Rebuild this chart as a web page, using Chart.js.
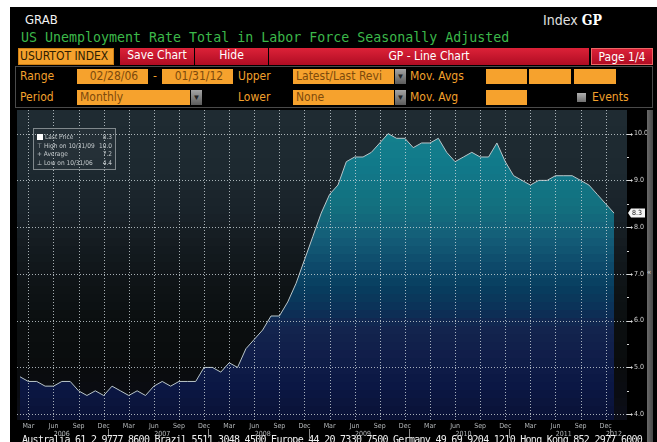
<!DOCTYPE html>
<html>
<head>
<meta charset="utf-8">
<title>USURTOT Index GP</title>
<script src="https://cdn.jsdelivr.net/npm/chart.js@4.4.0/dist/chart.umd.min.js"></script>
<style>
  html, body { margin: 0; padding: 0; background: #fff; width: 657px; height: 442px; overflow: hidden; }
  #screen { position: absolute; left: 10px; top: 7px; width: 647px; height: 435px; background: #000; }
  .t { position: absolute; white-space: nowrap; }
  .cond { font-family: "DejaVu Sans Condensed", "DejaVu Sans", sans-serif; font-stretch: condensed; }
  .mono { font-family: "DejaVu Sans Mono", "Liberation Mono", monospace; }
  .box { position: absolute; box-sizing: border-box; white-space: nowrap; overflow: hidden; }
  .ob { background: #f6a22d; color: #2e1d02; border: 1px solid #d07f12; }
  .rb { background: linear-gradient(#dc2238, #b00c23); color: #fff; text-align: center; }
  .lab { color: #f3a12c; font-size: 12px; line-height: 16px; }
  .fld { background: #f6a22d; color: #7d4a0c; font-size: 12px; line-height: 15px; padding-left: 3px; }
  .dd { background: linear-gradient(#a4a4a4, #5c5c5c); color: #222; font-size: 8px; text-align: center; line-height: 15px; }
  #panel { position: absolute; left: 15px; top: 66px; width: 638px; height: 42px; box-sizing: border-box; border: 1px solid #4a4a4a; }
  #chartBox { position: absolute; left: 17px; top: 110px; }
  #legendBox { position: absolute; left: 33px; top: 128px; width: 83px; height: 42px; box-sizing: border-box;
    border: 1px solid #80888c; background: rgba(255,255,255,0.03); color: #c6cbce; font-size: 6.5px; }
  #legendBox .row { position: absolute; left: 3px; right: 3px; height: 9px; line-height: 9px; }
  #legendBox .row span.v { position: absolute; right: 0; }
  #strip { position: absolute; left: 647px; top: 110px; width: 6px; height: 332px; background: linear-gradient(90deg, #6a6a6a, #474747); }
</style>
</head>
<body>
<div id="screen"></div>

<div class="t cond" style="left:25px;top:12px;font-size:13px;color:#f2f2f2">GRAB</div>
<div class="t cond" style="left:543px;top:12px;font-size:14px;color:#e0e0e0">Index <b style="font-family:'DejaVu Serif',serif;font-size:14px;color:#fff">GP</b></div>
<div class="t mono" style="left:21px;top:30px;font-size:13.3px;color:#3cb84a">US Unemployment Rate Total in Labor Force Seasonally Adjusted</div>

<!-- ligne 1 : boutons -->
<div class="box ob cond" style="left:18px;top:48px;width:96px;height:17px;font-size:12px;line-height:15px;padding-left:1px">USURTOT INDEX</div>
<div class="box rb cond" style="left:120px;top:48px;width:74px;height:17px;font-size:12px;line-height:15px">Save Chart</div>
<div class="box rb cond" style="left:195px;top:48px;width:73px;height:17px;font-size:12px;line-height:15px">Hide</div>
<div class="box rb cond" style="left:269px;top:48px;width:320px;height:17px;font-size:12px;line-height:16px">GP - Line Chart</div>
<div class="box rb cond" style="left:591px;top:48px;width:62px;height:17px;font-size:12px;line-height:16px;border:1px solid #e66">Page 1/4</div>

<!-- lignes 2 et 3 : paramètres -->
<div id="panel"></div>
<div class="t lab cond" style="left:20px;top:68px">Range</div>
<div class="box fld cond" style="left:77px;top:69px;width:71px;height:15px;text-align:center">02/28/06</div>
<div class="t lab cond" style="left:153px;top:68px">-</div>
<div class="box fld cond" style="left:162px;top:69px;width:71px;height:15px;text-align:center">01/31/12</div>
<div class="t lab cond" style="left:238px;top:68px">Upper</div>
<div class="box fld cond" style="left:293px;top:69px;width:101px;height:15px">Latest/Last Revi</div>
<div class="box dd" style="left:395px;top:69px;width:11px;height:15px">&#9660;</div>
<div class="t lab cond" style="left:410px;top:68px">Mov. Avgs</div>
<div class="box fld" style="left:486px;top:69px;width:41px;height:15px"></div>
<div class="box fld" style="left:529px;top:69px;width:42px;height:15px"></div>
<div class="box fld" style="left:574px;top:69px;width:42px;height:15px"></div>

<div class="t lab cond" style="left:20px;top:89px">Period</div>
<div class="box fld cond" style="left:77px;top:90px;width:113px;height:15px">Monthly</div>
<div class="box dd" style="left:191px;top:90px;width:11px;height:15px">&#9660;</div>
<div class="t lab cond" style="left:238px;top:89px">Lower</div>
<div class="box fld cond" style="left:293px;top:90px;width:101px;height:15px">None</div>
<div class="box dd" style="left:395px;top:90px;width:11px;height:15px">&#9660;</div>
<div class="t lab cond" style="left:410px;top:89px">Mov. Avg</div>
<div class="box fld" style="left:486px;top:90px;width:41px;height:15px"></div>
<div class="box" style="left:577px;top:93px;width:9px;height:9px;background:linear-gradient(#b0b0b0,#707070)"></div>
<div class="t lab cond" style="left:592px;top:89px">Events</div>

<!-- graphique -->
<div id="chartBox"><canvas id="myChart" width="631" height="330"></canvas></div>
<div id="legendBox" class="cond"></div>
<div id="strip"></div>
<div class="t" style="left:647px;top:267px;font-size:8px;color:#ddd">&#171;</div>

<div class="t mono" style="left:22px;top:435px;font-size:10px;line-height:10px;letter-spacing:-0.72px;color:#f0f0f0">Australia 61 2 9777 8600 Brazil 5511 3048 4500 Europe 44 20 7330 7500 Germany 49 69 9204 1210 Hong Kong 852 2977 6000</div>

<script>
// données : taux de chômage mensuel (fin de mois)
const months = [
  '2006-02','2006-03','2006-04','2006-05','2006-06','2006-07','2006-08','2006-09','2006-10','2006-11','2006-12',
  '2007-01','2007-02','2007-03','2007-04','2007-05','2007-06','2007-07','2007-08','2007-09','2007-10','2007-11','2007-12',
  '2008-01','2008-02','2008-03','2008-04','2008-05','2008-06','2008-07','2008-08','2008-09','2008-10','2008-11','2008-12',
  '2009-01','2009-02','2009-03','2009-04','2009-05','2009-06','2009-07','2009-08','2009-09','2009-10','2009-11','2009-12',
  '2010-01','2010-02','2010-03','2010-04','2010-05','2010-06','2010-07','2010-08','2010-09','2010-10','2010-11','2010-12',
  '2011-01','2011-02','2011-03','2011-04','2011-05','2011-06','2011-07','2011-08','2011-09','2011-10','2011-11','2011-12',
  '2012-01'
];
const unemployment = [
  4.8, 4.7, 4.7, 4.6, 4.6, 4.7, 4.7, 4.5, 4.4, 4.5, 4.4,
  4.6, 4.5, 4.4, 4.5, 4.4, 4.6, 4.7, 4.6, 4.7, 4.7, 4.7, 5.0,
  5.0, 4.9, 5.1, 5.0, 5.4, 5.6, 5.8, 6.1, 6.1, 6.4, 6.8, 7.3,
  7.8, 8.3, 8.7, 8.9, 9.4, 9.5, 9.5, 9.6, 9.8, 10.0, 9.9, 9.9,
  9.7, 9.8, 9.8, 9.9, 9.6, 9.4, 9.5, 9.6, 9.5, 9.5, 9.8, 9.4,
  9.1, 9.0, 8.9, 9.0, 9.0, 9.1, 9.1, 9.1, 9.0, 8.9, 8.7, 8.5,
  8.3
];
const yTicks = [4.0, 4.5, 5.0, 5.5, 6.0, 6.5, 7.0, 7.5, 8.0, 8.5, 9.0, 9.5, 10.0];
const quarterNames = { '03': 'Mar', '06': 'Jun', '09': 'Sep', '12': 'Dec' };

const FONT = '"DejaVu Sans Condensed", "DejaVu Sans", sans-serif';
const gridCol = 'rgba(205,214,218,0.8)';

// petite légende (dernier, max, moyenne, min)
function endOfMonth(m) {
  const y = +m.slice(0, 4), mo = +m.slice(5, 7);
  const d = new Date(y, mo, 0).getDate();
  return m.slice(5, 7) + '/' + d + '/' + m.slice(2, 4);
}
let hi = 0, lo = 0, sum = 0;
for (let i = 0; i < unemployment.length; i++) {
  if (unemployment[i] > unemployment[hi]) hi = i;
  if (unemployment[i] < unemployment[lo]) lo = i;
  sum += unemployment[i];
}
const last = unemployment[unemployment.length - 1];
const rows = [
  ['<span style="display:inline-block;width:6px;height:6px;background:#fff;margin-right:2px;vertical-align:-0.5px"></span>Last Price', last.toFixed(1)],
  ['&#8868; High on ' + endOfMonth(months[hi]), unemployment[hi].toFixed(1)],
  ['+ Average', (sum / unemployment.length).toFixed(1)],
  ['&#8869; Low on ' + endOfMonth(months[lo]), unemployment[lo].toFixed(1)]
];
document.getElementById('legendBox').innerHTML = rows.map((r, k) =>
  '<div class="row" style="top:' + (4 + k * 8.7) + 'px">' + r[0] + '<span class="v">' + r[1] + '</span></div>').join('');

// dégradés en bandes (style terminal)
function hex(c) { return [parseInt(c.slice(1, 3), 16), parseInt(c.slice(3, 5), 16), parseInt(c.slice(5, 7), 16)]; }
function colorAt(anchors, t) {
  for (let k = 1; k < anchors.length; k++) {
    if (t <= anchors[k][0]) {
      const a = anchors[k - 1], b = anchors[k];
      const f = (t - a[0]) / (b[0] - a[0]);
      const ca = hex(a[1]), cb = hex(b[1]);
      return 'rgb(' + ca.map((v, j) => Math.round(v + (cb[j] - v) * f)).join(',') + ')';
    }
  }
  return anchors[anchors.length - 1][1];
}
function bandGradient(ctx, area, anchors, step) {
  const g = ctx.createLinearGradient(0, area.top, 0, area.bottom);
  const h = area.bottom - area.top;
  for (let y0 = 0; y0 < h; y0 += step) {
    const y1 = Math.min(h, y0 + step);
    const c = colorAt(anchors, (y0 + y1) / 2 / h);
    g.addColorStop(y0 / h, c);
    g.addColorStop(y1 / h, c);
  }
  return g;
}
const bgAnchors = [[0, '#1f2b32'], [0.19, '#1d2930'], [0.32, '#19232a'], [0.44, '#141b20'], [0.55, '#0f1417'],
  [0.68, '#0b0f10'], [0.81, '#0a0c0d'], [0.92, '#0a0c12'], [1, '#0c0e1a']];
const fillAnchors = [[0, '#16858f'], [0.18, '#11798a'], [0.31, '#13707f'], [0.41, '#145e78'], [0.50, '#0d4a6b'],
  [0.57, '#083e5f'], [0.64, '#0b3258'], [0.70, '#13254e'], [0.78, '#111f4a'], [0.89, '#0b1744'], [1, '#0a1236']];

let fillGrad = null;

const bgPlugin = {
  id: 'bgBands',
  beforeDraw(chart) {
    const a = chart.chartArea, ctx = chart.ctx;
    ctx.save();
    ctx.fillStyle = bandGradient(ctx, a, bgAnchors, 8);
    ctx.fillRect(a.left, a.top, a.right - a.left, a.bottom - a.top);
    ctx.restore();
  }
};

// quadrillage pointillé, par-dessus le remplissage
const gridPlugin = {
  id: 'dotGrid',
  afterDatasetsDraw(chart) {
    const ctx = chart.ctx, a = chart.chartArea;
    const ys = chart.scales.y, xs = chart.scales.x;
    ctx.save();
    ctx.fillStyle = gridCol;
    months.forEach((m, i) => {
      if (!quarterNames[m.slice(5, 7)]) return;
      const px = Math.round(xs.getPixelForValue(i));
      for (let y = Math.ceil(a.top); y < a.bottom; y += 3) ctx.fillRect(px, y, 1, 1);
    });
    yTicks.forEach(v => {
      if (!Number.isInteger(v)) return;
      const py = Math.round(ys.getPixelForValue(v));
      for (let x = Math.ceil(a.left); x < a.right; x += 3) ctx.fillRect(x, py, 1, 1);
    });
    ctx.restore();
  }
};

const overlayPlugin = {
  id: 'overlay',
  afterDraw(chart) {
    const ctx = chart.ctx, a = chart.chartArea;
    const ys = chart.scales.y, xs = chart.scales.x;
    ctx.save();
    // graduations de l'axe de droite
    ctx.strokeStyle = '#d8d8d8';
    ctx.fillStyle = '#d8d8d8';
    ctx.lineWidth = 1;
    yTicks.forEach(v => {
      const py = Math.round(ys.getPixelForValue(v)) + 0.5;
      const major = Number.isInteger(v);
      ctx.beginPath();
      ctx.moveTo(a.right, py);
      ctx.lineTo(a.right + (major ? 4 : 2), py);
      ctx.stroke();
      if (major) {
        ctx.beginPath();
        ctx.moveTo(a.right + 4, py - 1.5);
        ctx.lineTo(a.right + 6, py);
        ctx.lineTo(a.right + 4, py + 1.5);
        ctx.fill();
      }
    });
    // étiquette du dernier cours
    const ly = ys.getPixelForValue(last);
    ctx.fillStyle = '#f4f4f4';
    ctx.beginPath();
    ctx.moveTo(a.right + 1, ly);
    ctx.lineTo(a.right + 4, ly - 4.5);
    ctx.lineTo(a.right + 18, ly - 4.5);
    ctx.lineTo(a.right + 18, ly + 4.5);
    ctx.lineTo(a.right + 4, ly + 4.5);
    ctx.closePath();
    ctx.fill();
    ctx.fillStyle = '#111';
    ctx.font = '7px ' + FONT;
    ctx.textBaseline = 'middle';
    ctx.fillText(last.toFixed(1), a.right + 5, ly + 0.5);
    // séparateurs d'années
    ctx.strokeStyle = '#8a8a8a';
    months.forEach((m, i) => {
      if (i > 0 && m.slice(5, 7) === '01') {
        const px = Math.round((xs.getPixelForValue(i - 1) + xs.getPixelForValue(i)) / 2) + 0.5;
        ctx.beginPath();
        ctx.moveTo(px, a.bottom + 9);
        ctx.lineTo(px, a.bottom + 18);
        ctx.stroke();
      }
    });
    ctx.restore();
  }
};

// pas de marges automatiques autour de la zone de tracé
function noPad(s) { s.paddingTop = 0; s.paddingBottom = 0; s.paddingLeft = 0; s.paddingRight = 0; }

var ctx = document.getElementById('myChart').getContext('2d');
var chart = new Chart(ctx, {
  type: 'line',
  data: {
    datasets: [{
      label: 'USURTOT Index',
      data: unemployment.map((v, i) => ({ x: i, y: v })),
      borderColor: '#b9c6ca',
      borderWidth: 1,
      pointRadius: 0,
      tension: 0,
      fill: 'start',
      backgroundColor: function (c) {
        const a = c.chart.chartArea;
        if (!a) return 'rgba(0,0,0,0)';
        if (!fillGrad) fillGrad = bandGradient(c.chart.ctx, a, fillAnchors, 8);
        return fillGrad;
      }
    }]
  },
  options: {
    responsive: false,
    animation: false,
    devicePixelRatio: 1,
    layout: { padding: 0 },
    plugins: { legend: { display: false }, tooltip: { enabled: false } },
    scales: {
      x: {
        type: 'linear',
        min: -0.36,
        max: 72.55,
        afterBuildTicks: s => { s.ticks = months.map((m, i) => ({ value: i })); },
        afterFit: s => { s.height = 20; noPad(s); },
        ticks: {
          autoSkip: false, maxRotation: 0, minRotation: 0, padding: 2,
          color: '#b4b8ba', font: { family: FONT, size: 7, lineHeight: 1.15 },
          callback: function (v) {
            const m = months[v];
            if (!m) return '';
            const mo = m.slice(5, 7);
            if (quarterNames[mo]) return quarterNames[mo];
            if (mo === '07' || (v === months.length - 1 && mo === '01')) return ['', m.slice(0, 4)];
            return '';
          }
        },
        grid: { drawOnChartArea: false, drawTicks: false, color: 'rgba(0,0,0,0)' },
        border: { display: false }
      },
      y: {
        position: 'right',
        min: 3.876,
        max: 10.505,
        afterBuildTicks: s => { s.ticks = yTicks.map(v => ({ value: v })); },
        afterFit: s => { s.width = 21; noPad(s); },
        ticks: {
          padding: 7, color: '#d4d4d4', font: { family: FONT, size: 7 },
          callback: v => Number.isInteger(v) ? v.toFixed(1) : ''
        },
        grid: { drawOnChartArea: false, drawTicks: false, color: 'rgba(0,0,0,0)' },
        border: { display: false }
      }
    }
  },
  plugins: [bgPlugin, gridPlugin, overlayPlugin]
});
</script>
</body>
</html>
